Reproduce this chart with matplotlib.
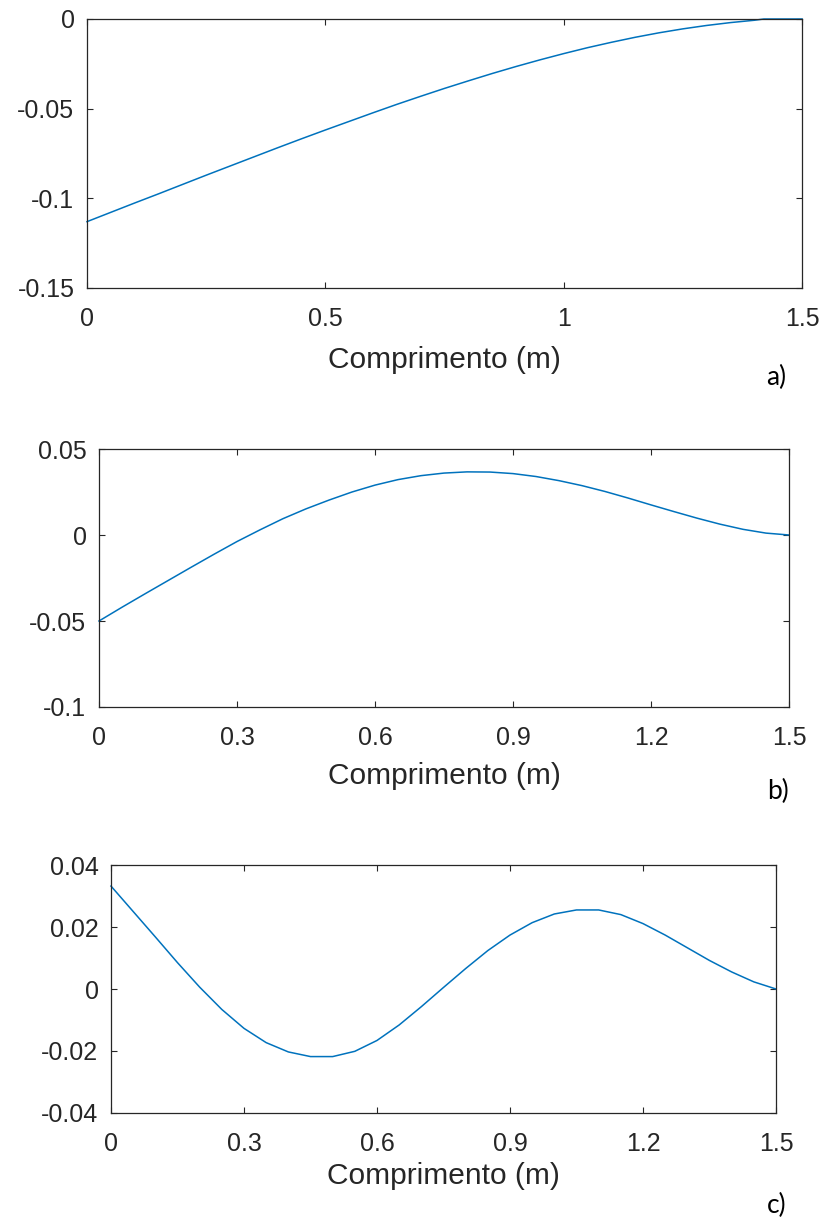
import matplotlib.pyplot as plt

plt.rcParams['font.family'] = ['Liberation Sans', 'DejaVu Sans']

# Data
x_a = [0.00, 0.05, 0.10, 0.15, 0.20, 0.25, 0.30, 0.35, 0.40, 0.45, 0.50, 0.55, 0.60,
       0.65, 0.70, 0.75, 0.80, 0.85, 0.90, 0.95, 1.00, 1.05, 1.10, 1.15, 1.20, 1.25,
       1.30, 1.35, 1.40, 1.42, 1.50]
y_a = [-0.1130, -0.1078, -0.1026, -0.0975, -0.0923, -0.0871, -0.0820, -0.0769, -0.0718,
       -0.0668, -0.0619, -0.0571, -0.0523, -0.0476, -0.0431, -0.0387, -0.0345, -0.0304,
       -0.0265, -0.0228, -0.0193, -0.0160, -0.0130, -0.0102, -0.0077, -0.0055, -0.0036,
       -0.0020, -0.0007, 0.0, 0.0]

x_b = [0.00, 0.05, 0.10, 0.15, 0.20, 0.25, 0.30, 0.35, 0.40, 0.45, 0.50, 0.55, 0.60,
       0.65, 0.70, 0.75, 0.80, 0.85, 0.90, 0.95, 1.00, 1.05, 1.10, 1.15, 1.20, 1.25,
       1.30, 1.35, 1.40, 1.45, 1.50]
y_b = [-0.0500, -0.0420, -0.0342, -0.0265, -0.0188, -0.0112, -0.0038, 0.0030, 0.0095,
       0.0152, 0.0203, 0.0250, 0.0290, 0.0322, 0.0345, 0.0360, 0.0367, 0.0366, 0.0357,
       0.0340, 0.0316, 0.0287, 0.0253, 0.0215, 0.0175, 0.0136, 0.0098, 0.0063, 0.0033,
       0.0011, 0.0]

x_c = [0.00, 0.05, 0.10, 0.15, 0.20, 0.25, 0.30, 0.35, 0.40, 0.45, 0.50, 0.55, 0.60,
       0.65, 0.70, 0.75, 0.80, 0.85, 0.90, 0.95, 1.00, 1.05, 1.10, 1.15, 1.20, 1.25,
       1.30, 1.35, 1.40, 1.45, 1.50]
y_c = [0.0332, 0.0250, 0.0168, 0.0085, 0.0006, -0.0066, -0.0127, -0.0173, -0.0203,
       -0.0218, -0.0218, -0.0201, -0.0166, -0.0116, -0.0057, 0.0005, 0.0066, 0.0124,
       0.0174, 0.0214, 0.0242, 0.0255, 0.0255, 0.0240, 0.0211, 0.0174, 0.0133, 0.0092,
       0.0055, 0.0023, 0.0]

xticks_a = [0, 0.5, 1, 1.5]
xticklabels_a = ['0', '0.5', '1', '1.5']
yticks_a = [-0.15, -0.1, -0.05, 0]
yticklabels_a = ['-0.15', '-0.1', '-0.05', '0']

xticks_bc = [0, 0.3, 0.6, 0.9, 1.2, 1.5]
xticklabels_bc = ['0', '0.3', '0.6', '0.9', '1.2', '1.5']
yticks_b = [-0.1, -0.05, 0, 0.05]
yticklabels_b = ['-0.1', '-0.05', '0', '0.05']
yticks_c = [-0.04, -0.02, 0, 0.02, 0.04]
yticklabels_c = ['-0.04', '-0.02', '0', '0.02', '0.04']

W, H = 824, 1218
line_color = '#0072BD'
axis_color = '#262626'

fig = plt.figure(figsize=(W / 100, H / 100), dpi=100)


def make_axes(left, top, right, bottom):
    # pixel box -> figure fractions
    return fig.add_axes([left / W, 1 - bottom / H, (right - left) / W, (bottom - top) / H])


panels = [
    # box, x, y, xticks, xlabels, yticks, ylabels, ylim, label y (px), tag, tag pos
    ((87, 19, 802, 288), x_a, y_a, xticks_a, xticklabels_a, yticks_a, yticklabels_a,
     (-0.15, 0), 360, 'a)', (776, 377)),
    ((99, 449, 789, 707), x_b, y_b, xticks_bc, xticklabels_bc, yticks_b, yticklabels_b,
     (-0.1, 0.05), 776, 'b)', (778, 791)),
    ((111, 865, 776, 1113), x_c, y_c, xticks_bc, xticklabels_bc, yticks_c, yticklabels_c,
     (-0.04, 0.04), 1176, 'c)', (777, 1205)),
]

for box, xs, ys, xt, xtl, yt, ytl, ylim, label_y, tag, tag_pos in panels:
    ax = make_axes(*box)
    ax.plot(xs, ys, color=line_color, linewidth=1.1, clip_on=False)
    ax.set_xlim(0, 1.5)
    ax.set_ylim(*ylim)
    ax.set_xticks(xt)
    ax.set_xticklabels(xtl)
    ax.set_yticks(yt)
    ax.set_yticklabels(ytl)
    ax.tick_params(direction='in', length=4, width=0.8, colors=axis_color,
                   labelsize=18, top=True, right=True)
    ax.tick_params(axis='x', pad=14)
    ax.tick_params(axis='y', pad=9)
    for spine in ax.spines.values():
        spine.set_color(axis_color)
        spine.set_linewidth(0.9)
    ax.set_xlabel('Comprimento (m)', fontsize=21.5, color=axis_color, va='center')
    top, bottom = box[1], box[3]
    ax.xaxis.set_label_coords(0.5, (bottom - label_y) / (bottom - top))
    fig.text(tag_pos[0] / W, 1 - tag_pos[1] / H, tag, fontsize=19, family='Lato',
             ha='center', va='center', color='black')

fig.savefig('out.png', dpi=100)
